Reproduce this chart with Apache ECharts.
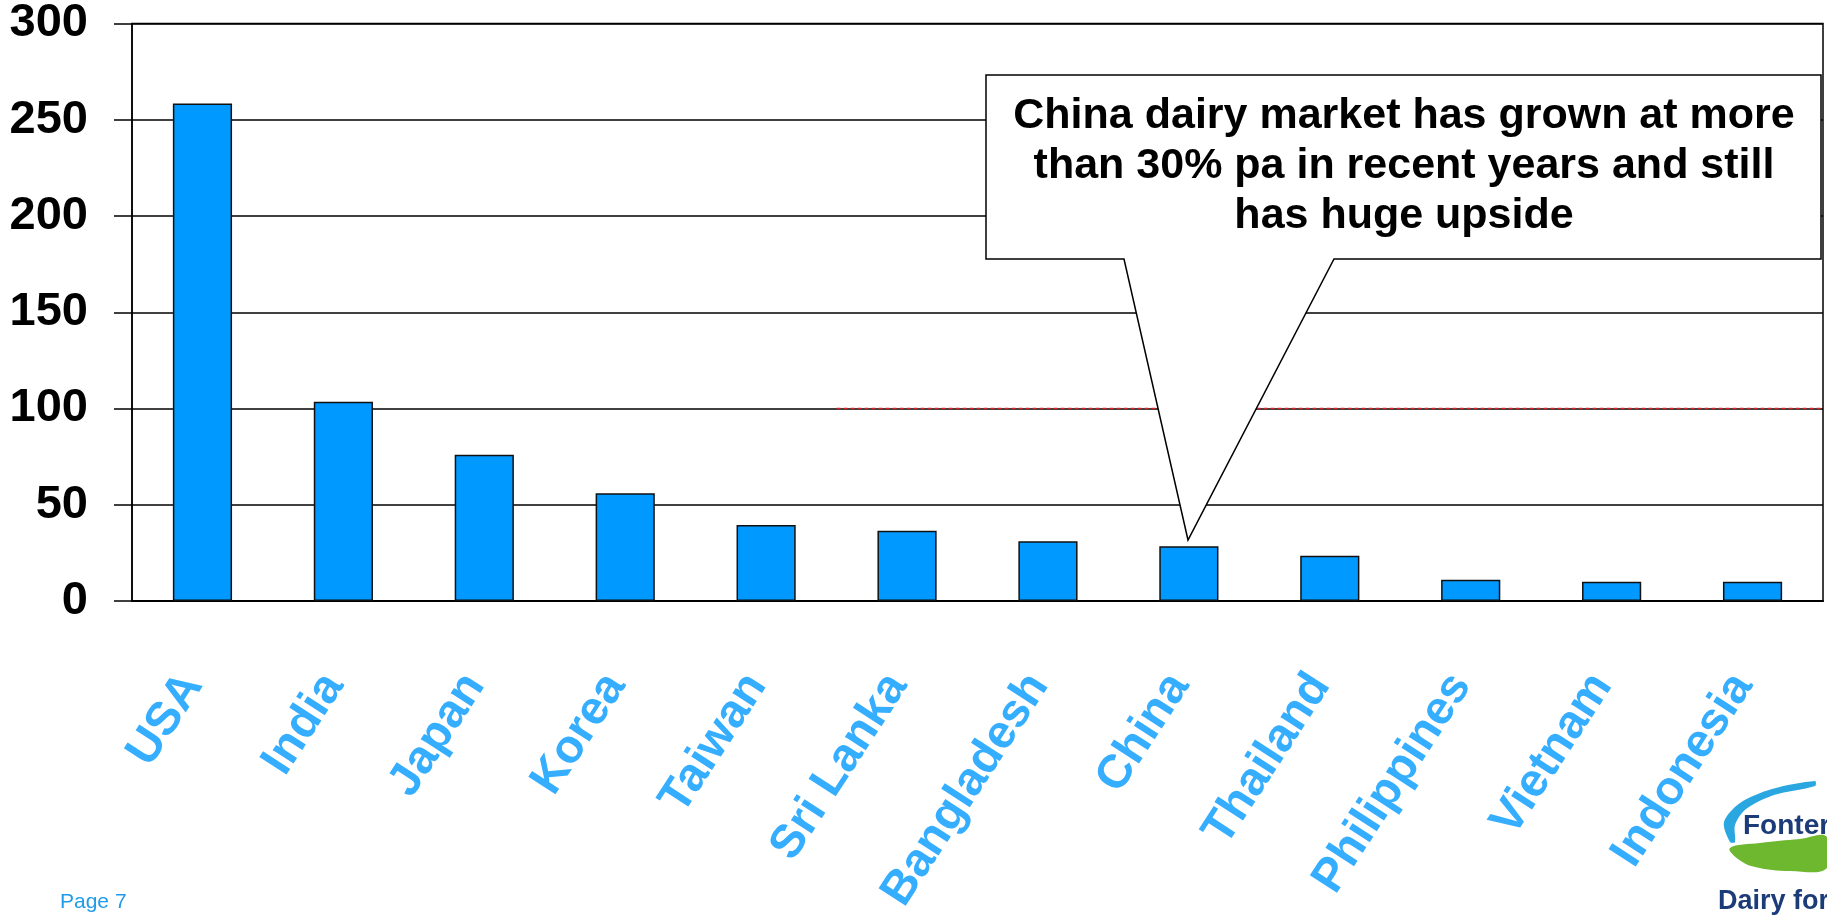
<!DOCTYPE html>
<html>
<head>
<meta charset="utf-8">
<script src="https://cdn.jsdelivr.net/npm/echarts@6/dist/echarts.min.js"></script>
<style>
html,body{margin:0;padding:0;background:#fff;}
#chart{width:1827px;height:918px;}
</style>
</head>
<body>
<div id="chart"></div>
<script>
const categories = ['USA','India','Japan','Korea','Taiwan','Sri Lanka','Bangladesh','China','Thailand','Philippines','Vietnam','Indonesia'];
const values = [258.5, 103.5, 76, 56, 39.5, 36.5, 31, 28.5, 23.5, 11, 10, 10];
const yTicks = [0, 50, 100, 150, 200, 250, 300];
const refLine = [[5, 100], [12, 100]];
const calloutLines = ['China dairy market has grown at more', 'than 30% pa in recent years and still', 'has huge upside'];

const chart = echarts.init(document.getElementById('chart'), null, {renderer: 'canvas'});
const FONT = 'Liberation Sans, Arial, sans-serif';

const option = {
  animation: false,
  backgroundColor: '#ffffff',
  grid: {left: 132, right: 4, top: 21, bottom: 317, show: true, borderColor: '#000', borderWidth: 1.5, backgroundColor: 'transparent'},
  xAxis: [{
    type: 'category',
    data: categories,
    axisLine: {show: true, lineStyle: {color: '#000', width: 2}},
    axisTick: {show: false},
    axisLabel: {rotate: 57, margin: 62, padding: [0, 18, 0, 0], color: '#36AEFF', fontSize: 47, fontWeight: 'bold', fontFamily: FONT, interval: 0}
  }, {
    type: 'value', min: 0, max: 12, show: false
  }],
  yAxis: {
    type: 'value', min: yTicks[0], max: yTicks[yTicks.length - 1], interval: 50,
    axisLine: {show: true, lineStyle: {color: '#000', width: 1.5}},
    axisTick: {show: true, length: 18, lineStyle: {color: '#000', width: 1.5}},
    splitLine: {show: true, lineStyle: {color: '#000', width: 1.5}},
    axisLabel: {margin: 44, padding: [20, 0, 0, 0], color: '#000', fontSize: 47, fontWeight: 'bold', fontFamily: FONT}
  },
  series: [{
    type: 'bar',
    data: values,
    barWidth: '42%',
    itemStyle: {color: '#0099FF', borderColor: '#111', borderWidth: 1.5},
    z: 3
  }, {
    type: 'line',
    xAxisIndex: 1,
    data: refLine,
    symbol: 'none',
    lineStyle: {color: '#E02020', width: 1.3, type: [4, 3]},
    z: 4,
    silent: true
  }],
  graphic: [
    {
      type: 'polygon',
      shape: {points: [[986,75],[1821,75],[1821,259],[1334,259],[1188,540],[1124,259],[986,259]]},
      style: {fill: '#fff', stroke: '#000', lineWidth: 1.5},
      z: 100
    },
    {
      type: 'text',
      x: 1404, y: 91,
      style: {text: calloutLines.join('\n'), fill: '#000', font: 'bold 43px ' + FONT, textAlign: 'center', lineHeight: 50},
      z: 101
    },
    {
      type: 'text',
      x: 60, y: 892,
      style: {text: 'Page 7', fill: '#1E9BE9', font: '21px ' + FONT},
      z: 101
    },
    // Fonterra logo (partially cut at right edge)
    {
      type: 'polygon',
      shape: {points: [[1730,842],[1724,822],[1740,803],[1772,789],[1815,781],[1815,786],[1774,795],[1746,809],[1735,825],[1735,842]], smooth: 0.3},
      style: {fill: '#2AA7E0'},
      z: 101
    },
    {
      type: 'text',
      x: 1743, y: 812,
      style: {text: 'Fonterra', fill: '#1B3C78', font: 'bold 28px ' + FONT},
      z: 102
    },
    {
      type: 'polygon',
      shape: {points: [[1730,848],[1760,843],[1800,839],[1827,837],[1827,868],[1790,871],[1755,867],[1738,859]], smooth: 0.4},
      style: {fill: '#6DB82E'},
      z: 101
    },
    {
      type: 'text',
      x: 1718, y: 888,
      style: {text: 'Dairy for life', fill: '#1B3C78', font: 'bold 27px ' + FONT},
      z: 102
    }
  ]
};
chart.setOption(option);
</script>
</body>
</html>
